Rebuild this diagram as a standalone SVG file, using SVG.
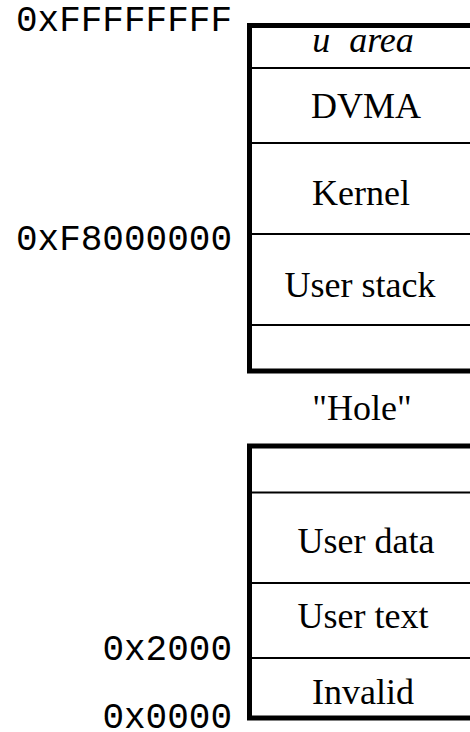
<svg xmlns="http://www.w3.org/2000/svg" width="470" height="732" viewBox="0 0 470 732">
<style>
.thick{stroke:#000;stroke-width:5;fill:none;stroke-linejoin:miter}
.thin{stroke:#000;stroke-width:2;fill:none}
.lbl{font-family:"Liberation Serif","Times New Roman",serif;font-size:36px;text-anchor:middle;fill:#000}
.it{font-style:italic;word-spacing:10px}
.addr{font-family:"Liberation Mono","Courier New",monospace;font-size:36px;text-anchor:end;fill:#000}
</style>
<rect width="470" height="732" fill="#fff"/>
<g id="upper-block">
  <path class="thick" d="M475 25.5 H249.5 V371 H475"/>
</g>
<g id="u-area"><text class="lbl it" x="363" y="52">u area</text></g>
<g id="dvma"><line class="thin" x1="249" y1="68" x2="470" y2="68"/><text class="lbl" x="366" y="118">DVMA</text></g>
<g id="kernel"><line class="thin" x1="249" y1="143" x2="470" y2="143"/><text class="lbl" x="361" y="205">Kernel</text></g>
<g id="user-stack"><line class="thin" x1="247" y1="234" x2="470" y2="234"/><text class="lbl" x="360" y="297">User stack</text></g>
<g id="upper-empty"><line class="thin" x1="249" y1="325" x2="470" y2="325"/></g>
<g id="hole"><text class="lbl" x="362" y="420">"Hole"</text></g>
<g id="lower-block">
  <path class="thick" d="M475 446 H249.5 V718 H475"/>
</g>
<g id="lower-empty"></g>
<g id="user-data"><line class="thin" x1="249" y1="492.5" x2="470" y2="492.5"/><text class="lbl" x="366" y="553">User data</text></g>
<g id="user-text"><line class="thin" x1="249" y1="583" x2="470" y2="583"/><text class="lbl" x="363" y="628">User text</text></g>
<g id="invalid"><line class="thin" x1="247" y1="658" x2="470" y2="658"/><text class="lbl" x="363" y="704">Invalid</text></g>
<g id="addresses">
  <text class="addr" x="232" y="31">0xFFFFFFFF</text>
  <text class="addr" x="232" y="250">0xF8000000</text>
  <text class="addr" x="232" y="660">0x2000</text>
  <text class="addr" x="232" y="728">0x0000</text>
</g>
<g id="connectors"></g>
</svg>
